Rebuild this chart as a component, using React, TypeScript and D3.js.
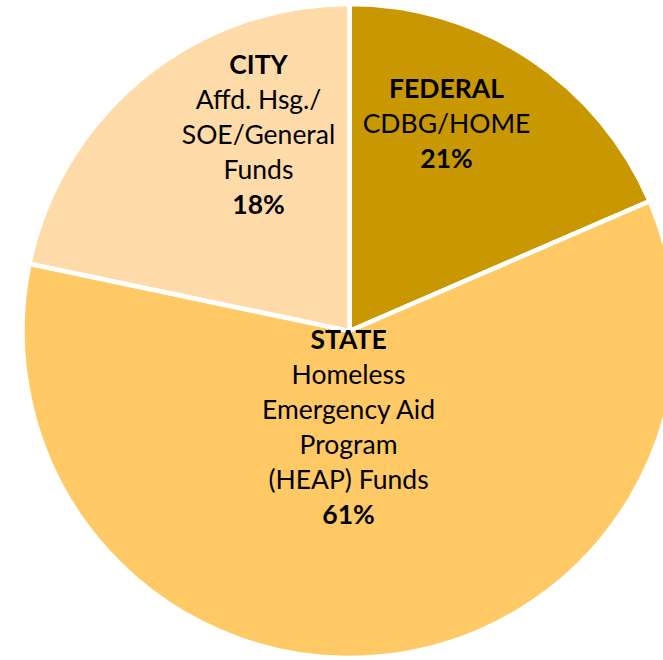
import { useEffect, useRef } from "react";
import * as d3 from "d3";

// slice sizes as drawn (angles)
const sources = ["FEDERAL", "STATE", "CITY"];
const shares = [18.5, 59.8, 21.7];
const shareLabels = ["21%", "61%", "18%"];
const details = [
  ["CDBG/HOME"],
  ["Homeless", "Emergency Aid", "Program", "(HEAP) Funds"],
  ["Affd. Hsg./", "SOE/General", "Funds"],
];
const colors = ["#C99700", "#FFC966", "#FFDBA9"];

export default function App() {
  const ref = useRef<SVGSVGElement | null>(null);
  const width = 663;
  const height = 660;

  useEffect(() => {
    if (!ref.current) return;
    const svg = d3.select(ref.current);
    svg.selectAll("*").remove();

    const cx = 349.5;
    const cy = 331;
    const radius = 327;

    const g = svg.append("g").attr("transform", `translate(${cx},${cy})`);

    const pie = d3
      .pie<number>()
      .sort(null)
      .value((d) => d)
      .startAngle(0)
      .endAngle(2 * Math.PI);
    const arc = d3.arc<d3.PieArcDatum<number>>().innerRadius(0).outerRadius(radius);
    const arcs = pie(shares);

    g.selectAll("path")
      .data(arcs)
      .join("path")
      .attr("d", arc)
      .attr("fill", (d, i) => colors[i])
      .attr("stroke", "#fff")
      .attr("stroke-width", 4.5)
      .attr("stroke-linejoin", "miter");

    // label block centres, offset from the pie centre
    const labelPos = [
      [97, -207],
      [-1, 96],
      [-91, -196],
    ];
    const lineH = 35;

    arcs.forEach((a, i) => {
      const lines = [
        { t: sources[i], bold: true },
        ...details[i].map((t) => ({ t, bold: false })),
        { t: shareLabels[i], bold: true },
      ];
      const [lx, ly] = labelPos[i];
      const top = ly - ((lines.length - 1) * lineH) / 2;
      const text = g
        .append("text")
        .attr("text-anchor", "middle")
        .attr("font-family", "Lato, 'Open Sans', sans-serif")
        .attr("font-size", 26.5)
        .attr("fill", "#000");
      lines.forEach((l, j) => {
        text
          .append("tspan")
          .attr("x", lx)
          .attr("y", top + j * lineH)
          .attr("dy", "0.35em")
          .attr("font-weight", l.bold ? 700 : 400)
          .text(l.t);
      });
    });
  }, []);

  return (
    <svg
      ref={ref}
      width={width}
      height={height}
      style={{ position: "absolute", left: 0, top: 0 }}
    />
  );
}
